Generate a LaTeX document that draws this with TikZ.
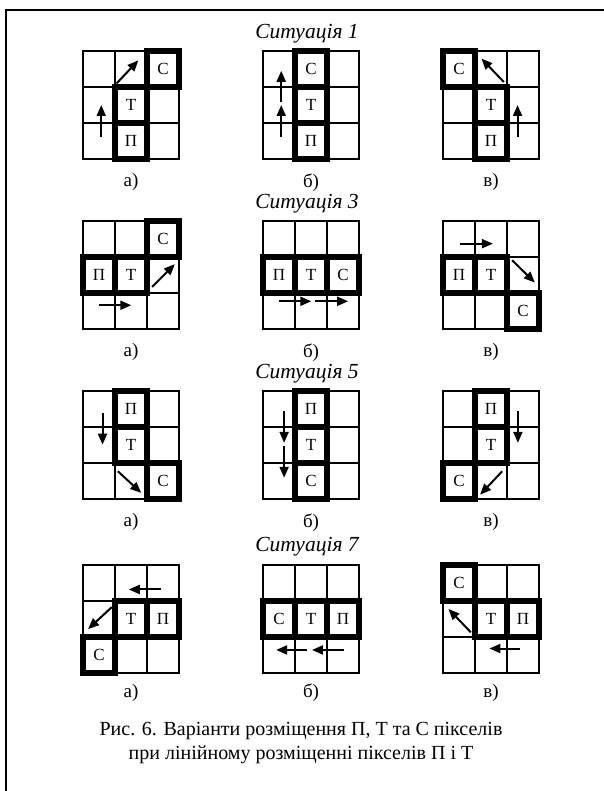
\documentclass[tikz,border=0pt]{standalone}
\usepackage{fontspec}
\setmainfont{Liberation Serif}
\usetikzlibrary{arrows.meta}
\tikzset{
  thinline/.style={line width=2pt, line cap=rect},
  pix/.style={draw, line width=5.5pt, minimum width=32pt, minimum height=36pt, inner sep=0pt, font=\fontsize{17}{17}\selectfont},
  arr/.style={line width=2pt, -{Triangle[length=11pt,width=9pt]}},
  sittitle/.style={font=\fontsize{21.5}{21.5}\selectfont\itshape},
  lab/.style={font=\fontsize{19}{19}\selectfont},
  captxt/.style={font=\fontsize{20}{24}\selectfont, align=center},
  gridat/.style n args={2}{shift={(#1pt,-#2pt)},x=32pt,y=-36pt},
  framebox/.style={line width=1.8pt}
}
\newcommand\cellgrid{\foreach \i in {0,1,2,3}{\draw[thinline] (\i,0)--(\i,3); \draw[thinline] (0,\i)--(3,\i);}}
\newcommand\arrw[3]{\coordinate (#1s) at (#2); \coordinate (#1e) at (#3); \draw[arr] (#1s) -- (#1e);}
\begin{document}
\begin{tikzpicture}[x=1pt,y=-1pt]
\useasboundingbox (0,0) rectangle (603,791);
\draw[framebox] (6,10) rectangle (612,800);

% titles
\node[sittitle] (t1) at (307,34) {Ситуація 1};
\node[sittitle] (t3) at (307,204) {Ситуація 3};
\node[sittitle] (t5) at (307,374) {Ситуація 5};
\node[sittitle] (t7) at (307,547) {Ситуація 7};

% ---------- Situation 1 ----------
\begin{scope}[gridat={83}{51}]
\cellgrid
\node[pix] (s1a-C) at (2.5,0.5) {С};
\node[pix] (s1a-T) at (1.5,1.5) {Т};
\node[pix] (s1a-P) at (1.5,2.5) {П};
\arrw{s1a-1}{0.57,2.4}{0.57,1.5}
\arrw{s1a-2}{1.05,0.9}{1.73,0.26}
\node[lab] (s1a-l) at (1.5,3.65) {а)};
\end{scope}
\begin{scope}[gridat={263}{51}]
\cellgrid
\node[pix] (s1b-C) at (1.5,0.5) {С};
\node[pix] (s1b-T) at (1.5,1.5) {Т};
\node[pix] (s1b-P) at (1.5,2.5) {П};
\arrw{s1b-1}{0.57,2.4}{0.57,1.5}
\arrw{s1b-2}{0.57,1.42}{0.57,0.55}
\node[lab] (s1b-l) at (1.5,3.65) {б)};
\end{scope}
\begin{scope}[gridat={443}{51}]
\cellgrid
\node[pix] (s1c-C) at (0.5,0.5) {С};
\node[pix] (s1c-T) at (1.5,1.5) {Т};
\node[pix] (s1c-P) at (1.5,2.5) {П};
\arrw{s1c-1}{1.9,0.86}{1.2,0.21}
\arrw{s1c-2}{2.33,2.4}{2.33,1.5}
\node[lab] (s1c-l) at (1.5,3.65) {в)};
\end{scope}

% ---------- Situation 3 ----------
\begin{scope}[gridat={83}{221}]
\cellgrid
\node[pix] (s3a-C) at (2.5,0.5) {С};
\node[pix] (s3a-P) at (0.5,1.5) {П};
\node[pix] (s3a-T) at (1.5,1.5) {Т};
\arrw{s3a-1}{0.5,2.34}{1.51,2.34}
\arrw{s3a-2}{2.16,1.83}{2.87,1.2}
\node[lab] (s3a-l) at (1.5,3.65) {а)};
\end{scope}
\begin{scope}[gridat={263}{221}]
\cellgrid
\node[pix] (s3b-P) at (0.5,1.5) {П};
\node[pix] (s3b-T) at (1.5,1.5) {Т};
\node[pix] (s3b-C) at (2.5,1.5) {С};
\arrw{s3b-1}{0.5,2.23}{1.51,2.23}
\arrw{s3b-2}{1.62,2.23}{2.66,2.23}
\node[lab] (s3b-l) at (1.5,3.65) {б)};
\end{scope}
\begin{scope}[gridat={443}{221}]
\cellgrid
\node[pix] (s3c-P) at (0.5,1.5) {П};
\node[pix] (s3c-T) at (1.5,1.5) {Т};
\node[pix] (s3c-C) at (2.5,2.5) {С};
\arrw{s3c-1}{0.54,0.63}{1.56,0.63}
\arrw{s3c-2}{2.16,1.09}{2.87,1.71}
\node[lab] (s3c-l) at (1.5,3.65) {в)};
\end{scope}

% ---------- Situation 5 ----------
\begin{scope}[gridat={83}{391}]
\cellgrid
\node[pix] (s5a-P) at (1.5,0.5) {П};
\node[pix] (s5a-T) at (1.5,1.5) {Т};
\node[pix] (s5a-C) at (2.5,2.5) {С};
\arrw{s5a-1}{0.61,0.6}{0.61,1.49}
\arrw{s5a-2}{1.09,2.23}{1.82,2.83}
\node[lab] (s5a-l) at (1.5,3.65) {а)};
\end{scope}
\begin{scope}[gridat={263}{391}]
\cellgrid
\node[pix] (s5b-P) at (1.5,0.5) {П};
\node[pix] (s5b-T) at (1.5,1.5) {Т};
\node[pix] (s5b-C) at (1.5,2.5) {С};
\arrw{s5b-1}{0.66,0.56}{0.66,1.44}
\arrw{s5b-2}{0.66,1.53}{0.66,2.41}
\node[lab] (s5b-l) at (1.5,3.65) {б)};
\end{scope}
\begin{scope}[gridat={443}{391}]
\cellgrid
\node[pix] (s5c-P) at (1.5,0.5) {П};
\node[pix] (s5c-T) at (1.5,1.5) {Т};
\node[pix] (s5c-C) at (0.5,2.5) {С};
\arrw{s5c-1}{2.34,0.56}{2.34,1.44}
\arrw{s5c-2}{1.85,2.23}{1.16,2.88}
\node[lab] (s5c-l) at (1.5,3.65) {в)};
\end{scope}

% ---------- Situation 7 ----------
\begin{scope}[gridat={83}{565}]
\cellgrid
\node[pix] (s7a-T) at (1.5,1.5) {Т};
\node[pix] (s7a-P) at (2.5,1.5) {П};
\node[pix] (s7a-C) at (0.5,2.5) {С};
\arrw{s7a-1}{2.44,0.68}{1.43,0.68}
\arrw{s7a-2}{0.9,1.17}{0.16,1.78}
\node[lab] (s7a-l) at (1.5,3.55) {а)};
\end{scope}
\begin{scope}[gridat={263}{565}]
\cellgrid
\node[pix] (s7b-C) at (0.5,1.5) {С};
\node[pix] (s7b-T) at (1.5,1.5) {Т};
\node[pix] (s7b-P) at (2.5,1.5) {П};
\arrw{s7b-1}{1.39,2.36}{0.41,2.36}
\arrw{s7b-2}{2.52,2.36}{1.53,2.36}
\node[lab] (s7b-l) at (1.5,3.55) {б)};
\end{scope}
\begin{scope}[gridat={443}{565}]
\cellgrid
\node[pix] (s7c-C) at (0.5,0.5) {С};
\node[pix] (s7c-T) at (1.5,1.5) {Т};
\node[pix] (s7c-P) at (2.5,1.5) {П};
\arrw{s7c-1}{0.87,1.87}{0.17,1.22}
\arrw{s7c-2}{2.42,2.32}{1.45,2.32}
\node[lab] (s7c-l) at (1.5,3.55) {в)};
\end{scope}

% caption
\node[captxt] (capt) at (301,743) {Рис. 6. Варіанти розміщення П, Т та С пікселів\\при лінійному розміщенні пікселів П і Т};
\end{tikzpicture}
\end{document}
